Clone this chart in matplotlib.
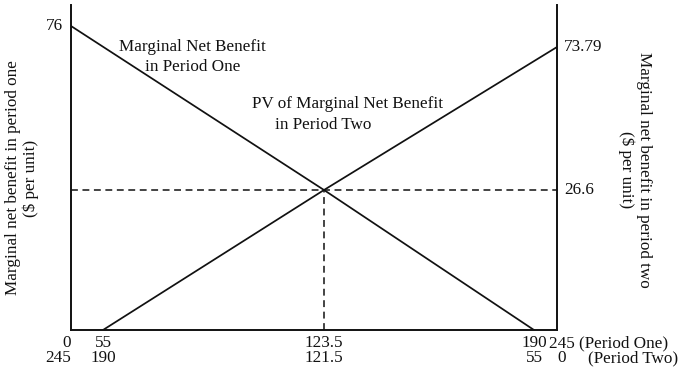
import numpy as np
import matplotlib
matplotlib.use("Agg")
import matplotlib.pyplot as plt

plt.rcParams['font.family'] = ['Liberation Serif', 'DejaVu Serif']

# ---- data ----
q_one = [0, 55, 123.5, 190, 245]            # quantity in period one
q_two = [245, 190, 121.5, 55, 0]            # corresponding quantity in period two
mnb1_q = [0, 123.5, 190]                    # Period One MNB curve points (q1)
mnb1_v = [76, 26.6, 0]
mnb2_q = [55, 123.5, 245]                   # PV of Period Two MNB (q1 axis)
mnb2_v = [0, 26.6, 73.79]
eq_q, eq_v = 123.5, 26.6
left_val, right_val = 76, 73.79

# sketch (not-to-scale) axis layout: data value -> relative position
x_knots = [0, 55, 123.5, 190, 245]
x_pos = [0, 32, 253, 463, 486]
y_knots = [0, 26.6, 73.79, 76, 81]
y_pos = [0, 140, 283, 304, 325]

def fx(v): return np.interp(v, x_knots, x_pos)
def ix(p): return np.interp(p, x_pos, x_knots)
def fy(v): return np.interp(v, y_knots, y_pos)
def iy(p): return np.interp(p, y_pos, y_knots)

W, H = 687, 379
fig = plt.figure(figsize=(W/100, H/100), dpi=100)
ax = fig.add_axes([71/W, (H-330)/H, 486/W, 325/H])
ax.set_xscale('function', functions=(fx, ix))
ax.set_yscale('function', functions=(fy, iy))
ax.set_xlim(0, 245)
ax.set_ylim(0, 81)

ink = '#111111'
lw = 1.25
ax.plot(mnb1_q, mnb1_v, color=ink, lw=lw)
ax.plot(mnb2_q, mnb2_v, color=ink, lw=lw)
ax.plot([0, 245], [eq_v, eq_v], color=ink, lw=1.1, ls=(0, (4.5, 3)))
ax.plot([eq_q, eq_q], [0, eq_v], color=ink, lw=1.1, ls=(0, (4.5, 3)))

for s in ['left', 'right', 'bottom']:
    ax.spines[s].set_linewidth(1.4)
    ax.spines[s].set_color(ink)
ax.spines['top'].set_visible(False)
ax.set_xticks([])
ax.set_yticks([])

fs = 12.3
tr = ax.get_xaxis_transform()
r1 = -13/325
r2 = -28/325
# bottom rows of quantity labels
for i, (a, b) in enumerate(zip(q_one[:-1], q_two[:-1])):
    ha = 'right' if i == 0 else 'center'
    ax.text(a, r1, f"{a:g}", transform=tr, ha=ha, va='center', fontsize=fs, color=ink)
    ax.text(a, r2, f"{b:g}", transform=tr, ha=ha, va='center', fontsize=fs, color=ink)

ax.annotate(f"{q_one[-1]:g} (Period One)", xy=(q_one[-1], r1), xycoords=tr,
            xytext=(-6, 0), textcoords='offset points', ha='left', va='center',
            fontsize=fs, color=ink)
ax.annotate(f"{q_two[-1]:g}", xy=(q_one[-1], r2), xycoords=tr,
            xytext=(0, 0), textcoords='offset points', ha='left', va='center',
            fontsize=fs, color=ink)
ax.annotate("(Period Two)", xy=(q_one[-1], r2), xycoords=tr,
            xytext=(22, 0), textcoords='offset points', ha='left', va='center',
            fontsize=fs, color=ink)

# y value labels
ax.annotate(f"{left_val:g}", xy=(0, left_val), xytext=(-6, 0), textcoords='offset points',
            ha='right', va='center', fontsize=fs, color=ink)
ax.annotate(f"{right_val:g}", xy=(245, right_val), xytext=(5, 0), textcoords='offset points',
            ha='left', va='center', fontsize=fs, color=ink)
ax.annotate(f"{eq_v:g}", xy=(245, eq_v), xytext=(5, 0), textcoords='offset points',
            ha='left', va='center', fontsize=fs, color=ink)

# curve labels
fig.text(192/W, 1-47/H, "Marginal Net Benefit", ha='center', va='center', fontsize=fs, color=ink)
fig.text(193/W, 1-67/H, "in Period One", ha='center', va='center', fontsize=fs, color=ink)
fig.text(348/W, 1-104/H, "PV of Marginal Net Benefit", ha='center', va='center', fontsize=fs, color=ink)
fig.text(323/W, 1-125/H, "in Period Two", ha='center', va='center', fontsize=fs, color=ink)

# axis titles
fig.text(22/W, 1-178/H, "Marginal net benefit in period one\n($ per unit)", rotation=90,
         ha='center', va='center', fontsize=fs, multialignment='center', linespacing=1.1,
         color=ink)
fig.text(635/W, 1-170/H, "Marginal net benefit in period two\n($ per unit)", rotation=270,
         ha='center', va='center', fontsize=fs, multialignment='center', linespacing=1.15,
         color=ink)

fig.savefig("out.png", dpi=100)
